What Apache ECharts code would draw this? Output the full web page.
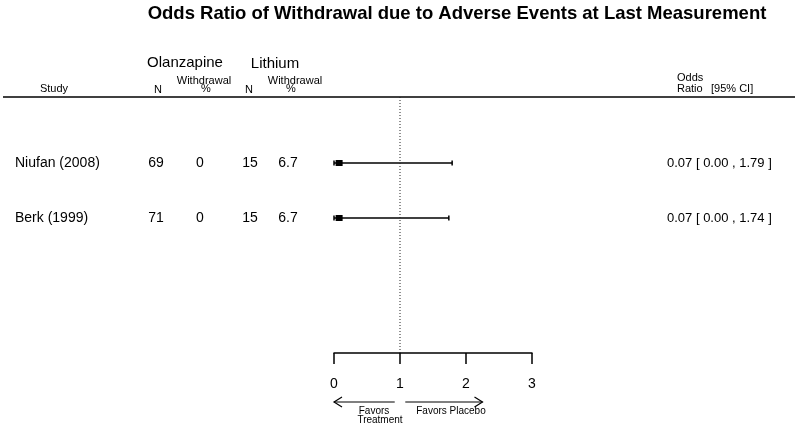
<!DOCTYPE html>
<html>
<head>
<meta charset="utf-8">
<script src="https://cdn.jsdelivr.net/npm/echarts@6/dist/echarts.min.js"></script>
<style>
  html, body { margin: 0; background: #fff; }
  #chart { width: 800px; height: 428px; }
</style>
</head>
<body>
<div id="chart"></div>
<script>
// data
var studies = ['Niufan (2008)', 'Berk (1999)']
var olzN = [69, 71]
var olzPct = ['0', '0']
var liN = [15, 15]
var liPct = ['6.7', '6.7']
var oddsRatio = [0.07, 0.07]
var ciLow = [0.00, 0.00]
var ciHigh = [1.79, 1.74]
var xTicks = [0, 1, 2, 3]

var FONT = '"Liberation Sans", Arial, Helvetica, sans-serif'
var yMin = -0.2
var yMax = 4.455
// pixel columns of the table part
var col = { study: 15, olzN: 156, olzPct: 200, liN: 250, liPct: 288, ci: 667 }

var rows = studies.map(function (s, i) {
  return [i + 1, oddsRatio[i], ciLow[i], ciHigh[i], i]
})

function fmt(v) { return v.toFixed(2) }

function txt(x, y, s, size, align, weight) {
  return {
    type: 'text', x: x, y: y, silent: true,
    style: {
      text: s, fill: '#000', font: (weight || 'normal') + ' ' + size + 'px ' + FONT,
      textAlign: align || 'left', textVerticalAlign: 'middle'
    }
  }
}

var chart = echarts.init(document.getElementById('chart'))

chart.setOption({
  backgroundColor: '#fff',
  animation: false,
  grid: { left: 334, width: 198, top: 97, height: 256 },
  xAxis: {
    type: 'value', min: 0, max: 3, interval: 1, position: 'bottom',
    axisLine: { show: true, onZero: false, lineStyle: { color: '#000', width: 1.5 } },
    axisTick: { show: true, length: 11, lineStyle: { color: '#000', width: 1.5 } },
    axisLabel: {
      color: '#000', fontSize: 14, fontFamily: FONT, margin: 24,
      formatter: function (v) { return xTicks.indexOf(v) >= 0 ? String(v) : '' }
    },
    splitLine: { show: false }
  },
  yAxis: {
    type: 'value', min: yMin, max: yMax, inverse: true, show: false,
    splitLine: { show: false }
  },
  series: [{
    type: 'line',
    data: [[1, yMin], [1, yMax]],
    symbol: 'none', silent: true,
    lineStyle: { color: '#222', width: 1, type: [1, 2] }
  }, {
    type: 'custom',
    data: rows,
    encode: { x: [1, 2, 3], y: 0 },
    renderItem: function (params, api) {
      var r = api.value(0)
      var i = api.value(4)
      var y = api.coord([0, r])[1]
      var xo = api.coord([api.value(1), r])[0]
      var xl = api.coord([api.value(2), r])[0]
      var xh = api.coord([api.value(3), r])[0]
      var ls = { stroke: '#000', lineWidth: 1.5 }
      return {
        type: 'group',
        children: [
          { type: 'line', shape: { x1: xl, y1: y, x2: xh, y2: y }, style: ls },
          { type: 'line', shape: { x1: xl, y1: y - 2.5, x2: xl, y2: y + 2.5 }, style: ls },
          { type: 'line', shape: { x1: xh, y1: y - 2.5, x2: xh, y2: y + 2.5 }, style: ls },
          { type: 'rect', shape: { x: xo - 3, y: y - 3, width: 7, height: 6 }, style: { fill: '#000' } },
          txt(col.study, y, studies[i], 14),
          txt(col.olzN, y, String(olzN[i]), 14, 'center'),
          txt(col.olzPct, y, olzPct[i], 14, 'center'),
          txt(col.liN, y, String(liN[i]), 14, 'center'),
          txt(col.liPct, y, liPct[i], 14, 'center'),
          txt(col.ci, y, fmt(oddsRatio[i]) + ' [ ' + fmt(ciLow[i]) + ' , ' + fmt(ciHigh[i]) + ' ]', 13)
        ]
      }
    }
  }]
})

// header, title and the favours arrows
var ay = 402
var p0 = chart.convertToPixel({ xAxisIndex: 0 }, 0)
var pL = chart.convertToPixel({ xAxisIndex: 0 }, 0.92)
var pR0 = chart.convertToPixel({ xAxisIndex: 0 }, 1.08)
var pR1 = chart.convertToPixel({ xAxisIndex: 0 }, 2.25)
var arrowStyle = { stroke: '#000', lineWidth: 1.2, fill: null }

chart.setOption({
  graphic: [
    txt(457, 14, 'Odds Ratio of Withdrawal due to Adverse Events at Last Measurement', 18.5, 'center', 'bold'),
    txt(185, 63, 'Olanzapine', 15, 'center'),
    txt(275, 64, 'Lithium', 15, 'center'),
    txt(204, 81, 'Withdrawal', 11, 'center'),
    txt(206, 89, '%', 11, 'center'),
    txt(295, 81, 'Withdrawal', 11, 'center'),
    txt(291, 89, '%', 11, 'center'),
    txt(54, 89, 'Study', 11, 'center'),
    txt(158, 90, 'N', 11, 'center'),
    txt(249, 90, 'N', 11, 'center'),
    txt(677, 78, 'Odds', 11),
    txt(677, 89, 'Ratio', 11),
    txt(711, 89, '[95% CI]', 11),
    { type: 'line', silent: true, shape: { x1: 3, y1: 97, x2: 795, y2: 97 }, style: { stroke: '#000', lineWidth: 1.5 } },
    { type: 'polyline', silent: true, shape: { points: [[pL, ay], [p0, ay]] }, style: arrowStyle },
    { type: 'polyline', silent: true, shape: { points: [[p0 + 8, ay - 5], [p0, ay], [p0 + 8, ay + 5]] }, style: arrowStyle },
    { type: 'polyline', silent: true, shape: { points: [[pR0, ay], [pR1, ay]] }, style: arrowStyle },
    { type: 'polyline', silent: true, shape: { points: [[pR1 - 8, ay - 5], [pR1, ay], [pR1 - 8, ay + 5]] }, style: arrowStyle },
    txt(374, 411, 'Favors', 10, 'center'),
    txt(380, 420, 'Treatment', 10, 'center'),
    txt(451, 411, 'Favors Placebo', 10, 'center')
  ]
})
</script>
</body>
</html>
